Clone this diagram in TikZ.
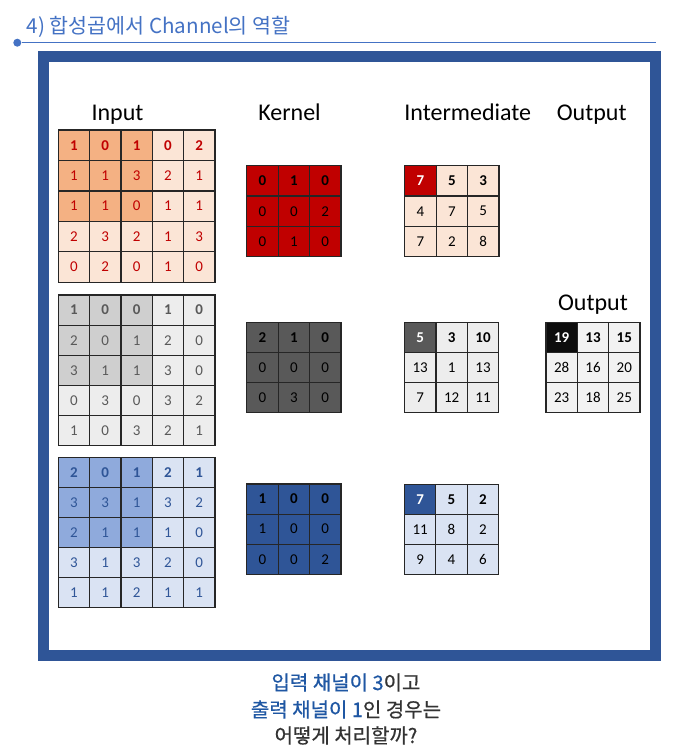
\documentclass[tikz,border=0pt]{standalone}
\usepackage{fontspec}
\setmainfont{Carlito}
\newfontfamily\kr{Noto Sans CJK KR}
\newfontfamily\krq[FakeBold=0.6]{Noto Sans CJK KR}
\definecolor{titleblue}{HTML}{4472C4}
\definecolor{framecol}{HTML}{2F5597}
\definecolor{gridline}{HTML}{262626}
\definecolor{rdark}{HTML}{F4B183}
\definecolor{rlight}{HTML}{FBE5D6}
\definecolor{rtext}{HTML}{C00000}
\definecolor{rker}{HTML}{C00000}
\definecolor{gdark}{HTML}{CFCFCF}
\definecolor{glight}{HTML}{EDEDED}
\definecolor{gtext}{HTML}{595959}
\definecolor{gker}{HTML}{595959}
\definecolor{bdark}{HTML}{8FAADC}
\definecolor{blight}{HTML}{DAE3F3}
\definecolor{btext}{HTML}{2F5597}
\definecolor{bker}{HTML}{2F5597}
\definecolor{olight}{HTML}{F2F2F2}
\definecolor{odark}{HTML}{0D0D0D}
\definecolor{qblue}{HTML}{1F57A3}
\definecolor{qdark}{HTML}{333333}
\newcommand{\drawgrid}[7]{%
  \foreach \row [count=\r from 0] in {#7} {
    \foreach \v [count=\c from 0] in \row {
      \ifcase#6\relax
        \ifnum\r<3 \ifnum\c<3 \def\cellst{dk}\else\def\cellst{lt}\fi\else\def\cellst{lt}\fi
      \or \def\cellst{dk}%
      \or \ifnum\r=0 \ifnum\c=0 \def\cellst{hl}\else\def\cellst{lt}\fi\else\def\cellst{lt}\fi
      \fi
      \ifnum\r=0 \def\cellfw{\bfseries}\else\def\cellfw{}\fi
      \node[cell, \cellst, minimum width=#4pt, minimum height=#5pt] (#1-\r-\c)
        at ({#2+(\c+0.5)*#4},{#3+(\r+0.5)*#5}) {\cellfw\v};
    }
  }
}
\begin{document}
\begin{tikzpicture}[x=1pt,y=-1pt,
  cell/.style={draw=gridline, line width=1.2pt, inner sep=0pt, font=\fontsize{15}{16}\selectfont},
  label/.style={anchor=base, inner sep=0pt, font=\fontsize{24}{28}\selectfont},
  qline/.style={anchor=base, inner sep=0pt, text=qdark, font=\krq\fontsize{20}{24}\selectfont}]
\useasboundingbox (0,0) rectangle (679,756);
\fill[white] (0,0) rectangle (679,756);
% title
\node[anchor=base west, inner sep=0pt, text=titleblue, font=\kr\fontsize{20.6}{24}\selectfont] (title) at (26.7,33.3) {4) 합성곱에서 Channel의 역할};
\node[circle, fill=titleblue, inner sep=0pt, minimum size=8pt] (dot) at (17.3,42.7) {};
\coordinate (lineend) at (656,42.7);
\draw[titleblue, line width=1.1pt] (dot) -- (lineend);
% frame
\draw[framecol, line width=11pt] (43.8,56.65) rectangle (655.85,655.1);
% labels
\node[label] (linput) at (117.5,120.7) {Input};
\node[label] (lkernel) at (289.5,120.7) {Kernel};
\node[label] (linter) at (467.8,120.7) {Intermediate};
\node[label] (lout1) at (591.7,120.7) {Output};
\node[label] (lout2) at (593,310.7) {Output};
% input grids
\begin{scope}[dk/.style={fill=rdark,text=rtext}, lt/.style={fill=rlight,text=rtext}]
\drawgrid{in1}{58.3}{130}{31.33}{30.46}{0}{{1,0,1,0,2},{1,1,3,2,1},{1,1,0,1,1},{2,3,2,1,3},{0,2,0,1,0}}
\end{scope}
\begin{scope}[dk/.style={fill=gdark,text=gtext}, lt/.style={fill=glight,text=gtext}]
\drawgrid{in2}{58.3}{295}{31.33}{30.14}{0}{{1,0,0,1,0},{2,0,1,2,0},{3,1,1,3,0},{0,3,0,3,2},{1,0,3,2,1}}
\end{scope}
\begin{scope}[dk/.style={fill=bdark,text=btext}, lt/.style={fill=blight,text=btext}]
\drawgrid{in3}{58.3}{457.7}{31.33}{29.92}{0}{{2,0,1,2,1},{3,3,1,3,2},{2,1,1,1,0},{3,1,3,2,0},{1,1,2,1,1}}
\end{scope}
% kernels
\begin{scope}[dk/.style={fill=rker,text=black}]
\drawgrid{k1}{246.7}{165.7}{31.43}{30.33}{1}{{0,1,0},{0,0,2},{0,1,0}}
\end{scope}
\begin{scope}[dk/.style={fill=gker,text=black}]
\drawgrid{k2}{246.7}{322.3}{31.43}{30.13}{1}{{2,1,0},{0,0,0},{0,3,0}}
\end{scope}
\begin{scope}[dk/.style={fill=bker,text=black}]
\drawgrid{k3}{246.7}{484}{31.43}{30.1}{1}{{1,0,0},{1,0,0},{0,0,2}}
\end{scope}
% intermediates
\begin{scope}[hl/.style={fill=rker,text=white}, lt/.style={fill=rlight,text=black}]
\drawgrid{m1}{404.7}{165.7}{31.43}{30.33}{2}{{7,5,3},{4,7,5},{7,2,8}}
\end{scope}
\begin{scope}[hl/.style={fill=gker,text=white}, lt/.style={fill=glight,text=black}]
\drawgrid{m2}{404.5}{322.3}{31.43}{30.0}{2}{{5,3,10},{13,1,13},{7,12,11}}
\end{scope}
\begin{scope}[hl/.style={fill=bker,text=white}, lt/.style={fill=blight,text=black}]
\drawgrid{m3}{404.5}{484.3}{31.33}{30.0}{2}{{7,5,2},{11,8,2},{9,4,6}}
\end{scope}
% output
\begin{scope}[hl/.style={fill=odark,text=white}, lt/.style={fill=olight,text=black}]
\drawgrid{out}{546}{322.3}{31.33}{30.0}{2}{{19,13,15},{28,16,20},{23,18,25}}
\end{scope}
% question
\node[qline] (q1) at (346,690) {{\color{qblue}입력 채널이 3}이고};
\node[qline] (q2) at (346,717) {{\color{qblue}출력 채널이 1}인 경우는};
\node[qline] (q3) at (346,743) {어떻게 처리할까?};
\end{tikzpicture}
\end{document}
